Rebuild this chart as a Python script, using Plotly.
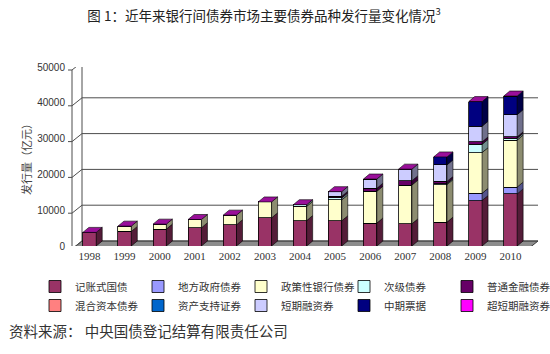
import plotly.graph_objects as go

# ---------------- data (亿元) ----------------
years = [1998, 1999, 2000, 2001, 2002, 2003, 2004, 2005, 2006, 2007, 2008, 2009, 2010]
guozhai   = [3800, 4070, 4720, 5090, 5930, 7870, 7100, 7040, 6400, 6200, 6670, 12700, 14540]
difang    = [0, 0, 0, 0, 0, 0, 0, 0, 0, 0, 0, 2000, 1900]
zhengce   = [0, 1480, 1390, 2310, 2690, 4440, 3980, 5830, 8890, 10830, 10460, 11390, 13150]
ciji      = [0, 0, 0, 0, 0, 0, 460, 550, 0, 0, 300, 2300, 500]
putong    = [0, 0, 0, 0, 0, 0, 0, 460, 830, 1200, 600, 700, 400]
hunhe     = [0, 0, 0, 0, 0, 0, 0, 0, 0, 0, 0, 0, 0]
zichan    = [0, 0, 0, 0, 0, 0, 0, 0, 0, 0, 0, 0, 0]
duanrong  = [0, 0, 0, 0, 0, 0, 0, 1300, 2590, 3240, 4630, 4350, 6200]
zhongpiao = [0, 0, 0, 0, 0, 0, 0, 0, 0, 0, 2220, 6900, 5200]
chaoduan  = [0, 0, 0, 0, 0, 0, 0, 0, 0, 0, 0, 0, 0]

series_names = ["记账式国债", "地方政府债券", "政策性银行债券", "次级债券", "普通金融债券",
                "混合资本债券", "资产支持证券", "短期融资券", "中期票据", "超短期融资券"]
series_values = [guozhai, difang, zhengce, ciji, putong, hunhe, zichan, duanrong, zhongpiao, chaoduan]
series_colors = ["#993366", "#9999FF", "#FFFFCC", "#CCFFFF", "#660066",
                 "#FF8080", "#0066CC", "#CCCCFF", "#000080", "#FF00FF"]
y_ticks = [0, 10000, 20000, 30000, 40000, 50000]
y_tick_labels = ["0", "10000", "20000", "30000", "40000", "50000"]
x_tick_labels = ["1998", "1999", "2000", "2001", "2002", "2003", "2004",
                 "2005", "2006", "2007", "2008", "2009", "2010"]

# ---------------- layout constants ----------------
W, H = 550, 354
ML, MR, MT, MB = 72, 22, 67, 108
PW, PH = W - ML - MR, H - MT - MB
YMAX = 50000
U = YMAX / PH              # data units per pixel
BW = 0.38                  # bar width (category units)
HX = BW / 2 * PW / len(years)   # half bar width in px
DX, DY = 6, 5              # bar depth in px
WX, WY = 10, 8             # wall depth in px


def darker(hexc, f=0.6):
    h = hexc.lstrip("#")
    r, g, b = (int(h[i:i + 2], 16) for i in (0, 2, 4))
    return "rgb(%d,%d,%d)" % (r * f, g * f, b * f)


fig = go.Figure()
for name, vals, col in zip(series_names, series_values, series_colors):
    fig.add_trace(go.Bar(
        x=years, y=vals, name=name, width=BW,
        marker=dict(color=col, line=dict(color="#000000", width=0.8)),
    ))

shapes = []
# floor
shapes.append(dict(type="path", xref="paper", yref="y", xsizemode="pixel", ysizemode="pixel",
                   xanchor=0, yanchor=0, layer="below",
                   path=f"M 0,-3 L {WX},{WY-3} L {PW+WX},{WY-3} L {PW},-3 Z",
                   fillcolor="#8c8c8c", line=dict(color="#3a3a3a", width=1)))
# gridlines with wall depth
for v in y_ticks:
    shapes.append(dict(type="path", xref="paper", yref="y", xsizemode="pixel", ysizemode="pixel",
                       xanchor=0, yanchor=v, layer="below",
                       path=f"M -4,-3 L 0,-3 L {WX},{WY-3} L {PW+WX},{WY-3}",
                       line=dict(color="#4d4d4d", width=1)))
# front axis line and back-wall left edge
shapes.append(dict(type="path", xref="paper", yref="y", xsizemode="pixel", ysizemode="pixel",
                   xanchor=0, yanchor=0, layer="below",
                   path=f"M 0,-3 L 0,{PH-3}", line=dict(color="#4d4d4d", width=1)))
shapes.append(dict(type="path", xref="paper", yref="y", xsizemode="pixel", ysizemode="pixel",
                   xanchor=0, yanchor=0, layer="below",
                   path=f"M {WX},{WY-3} L {WX},{PH+WY-3}", line=dict(color="#4d4d4d", width=1)))

# 3D side faces and top faces of the bars (derived from the data)
for i, yr in enumerate(years):
    base = 0
    for vals, col in zip(series_values, series_colors):
        v = vals[i]
        if v > 0:
            t = base + v
            shapes.append(dict(type="path", xref="x", yref="y", xsizemode="pixel", xanchor=yr,
                               path=f"M {HX},{base} L {HX+DX},{base+DY*U} L {HX+DX},{t+DY*U} L {HX},{t} Z",
                               fillcolor=darker(col, 0.55), line=dict(color="#000000", width=0.6)))
            base = t
    shapes.append(dict(type="path", xref="x", yref="y", xsizemode="pixel", xanchor=yr,
                       path=f"M {-HX},{base} L {-HX+DX},{base+DY*U} L {HX+DX},{base+DY*U} L {HX},{base} Z",
                       fillcolor="#9a0f9a", line=dict(color="#000000", width=0.6)))

fig.update_layout(
    width=W, height=H,
    margin=dict(l=ML, r=MR, t=MT, b=MB, pad=0, autoexpand=False),
    paper_bgcolor="white", plot_bgcolor="rgba(0,0,0,0)",
    barmode="stack",
    font=dict(family="Noto Sans CJK SC", color="#333333"),
    title=dict(text="图 1：近年来银行间债券市场主要债券品种发行量变化情况<sup>3</sup>",
               x=264 / W, xanchor="center", y=1 - 16 / H, yanchor="middle",
               font=dict(size=13.5, color="#222222", family="Noto Sans CJK SC")),
    xaxis=dict(range=[years[0] - 0.5, years[-1] + 0.5], tickmode="array", tickvals=years,
               ticktext=x_tick_labels, showgrid=False, zeroline=False, showline=False,
               ticks="", ticklabelstandoff=2,
               tickfont=dict(family="Liberation Serif", size=11, color="#333333")),
    yaxis=dict(range=[0, YMAX], tickmode="array", tickvals=y_ticks, ticktext=y_tick_labels,
               showgrid=False, zeroline=False, showline=False, ticks="", ticklabelstandoff=6,
               tickfont=dict(family="Liberation Sans", size=10, color="#333333"),
               title=dict(text="发行量（亿元）", standoff=3,
                          font=dict(size=11, color="#444444", family="Noto Sans CJK SC"))),
    legend=dict(orientation="h", x=(35 - ML) / PW, xanchor="left",
                y=(MT + PH - 272) / PH, yanchor="top",
                entrywidth=58, entrywidthmode="pixels", traceorder="normal",
                font=dict(size=10.5, color="#333333", family="Noto Sans CJK SC"),
                itemclick=False, bgcolor="rgba(0,0,0,0)"),
    shapes=shapes,
    annotations=[dict(text="资料来源： 中央国债登记结算有限责任公司", xref="paper", yref="paper",
                      x=(7 - ML) / PW, xanchor="left", y=(MT + PH - 330) / PH, yanchor="middle",
                      showarrow=False,
                      font=dict(size=14.5, color="#333333", family="Noto Sans CJK SC"))],
)

fig.write_html("out.html")
